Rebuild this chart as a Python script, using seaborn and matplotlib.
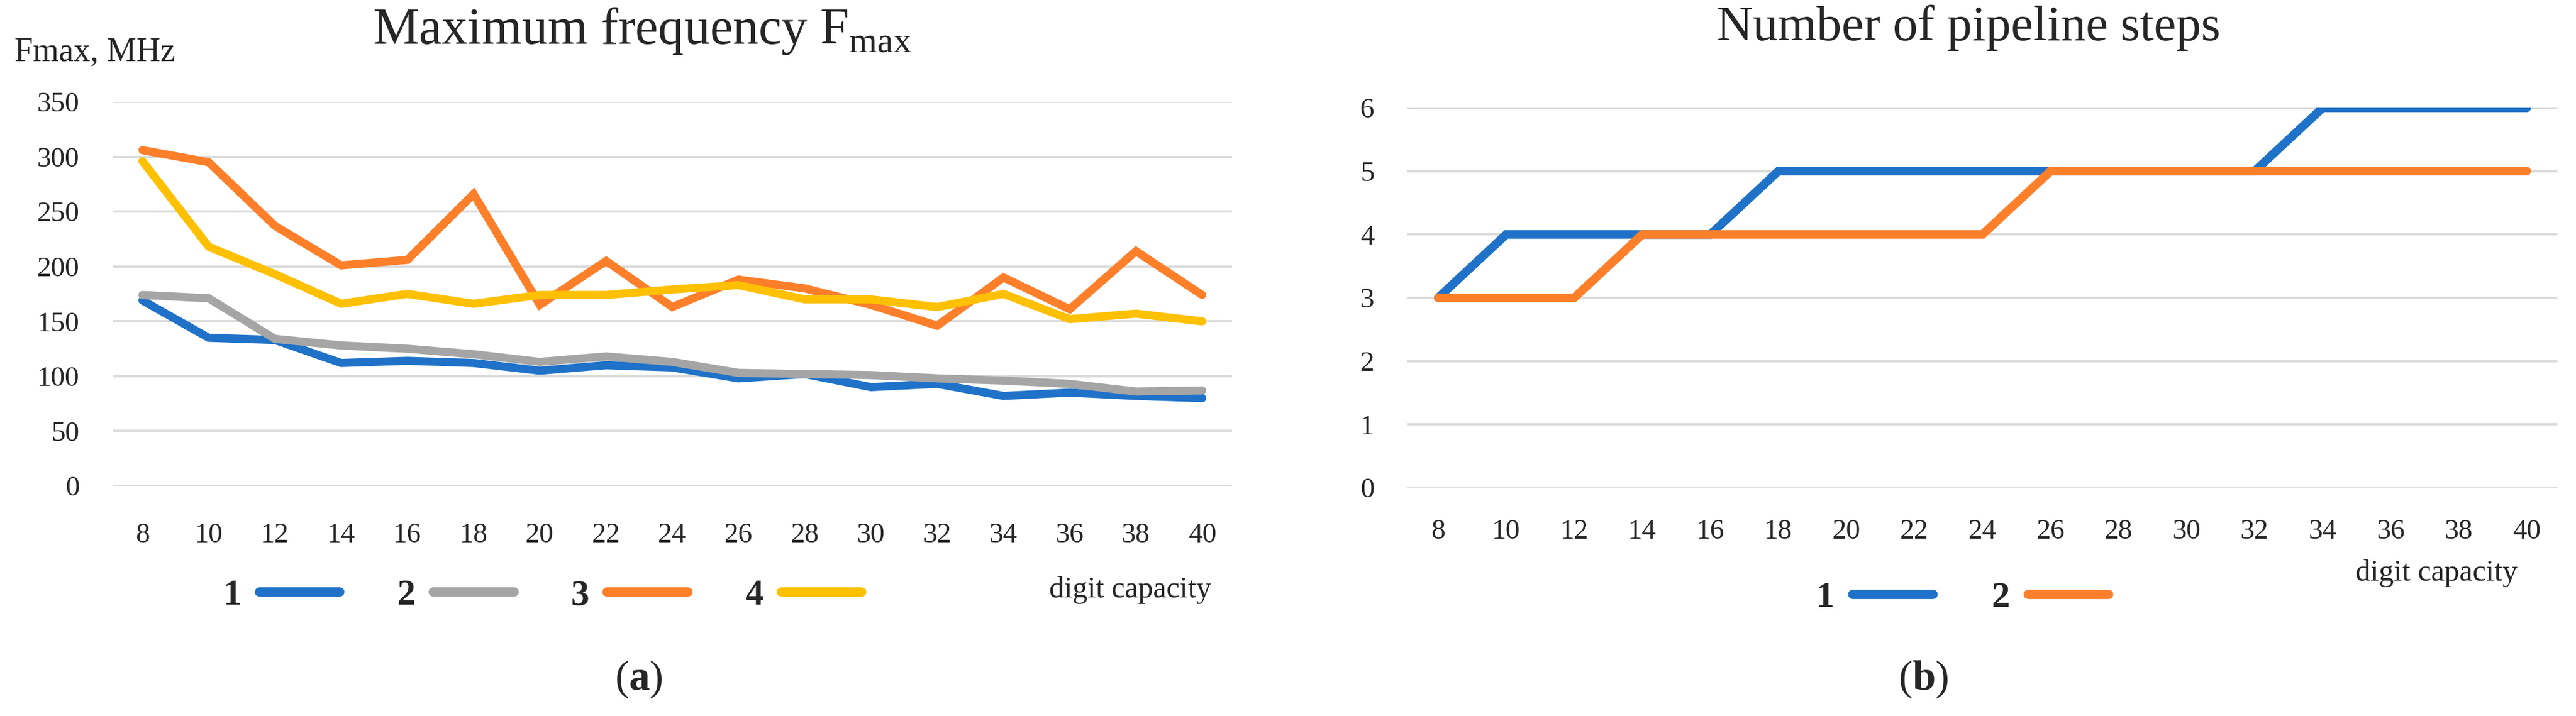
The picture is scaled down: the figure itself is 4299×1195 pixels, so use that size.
import numpy as np
import pandas as pd
import matplotlib
matplotlib.use("Agg")
import matplotlib.pyplot as plt
import seaborn as sns
from matplotlib.lines import Line2D

# ---------------- data ----------------
digits = [8, 10, 12, 14, 16, 18, 20, 22, 24, 26, 28, 30, 32, 34, 36, 38, 40]

fmax_1 = [169, 135, 133, 112, 114, 112, 105, 110, 108, 98, 102, 90, 93, 82, 85, 82, 80]
fmax_2 = [174, 171, 134, 128, 125, 120, 113, 118, 113, 103, 102, 101, 98, 96, 93, 86, 87]
fmax_3 = [306, 295, 237, 201, 206, 266, 165, 205, 163, 188, 180, 165, 146, 190, 161, 214, 174]
fmax_4 = [296, 218, 193, 166, 175, 166, 174, 174, 179, 183, 170, 170, 163, 175, 152, 157, 150]

steps_1 = [3, 4, 4, 4, 4, 5, 5, 5, 5, 5, 5, 5, 5, 6, 6, 6, 6]
steps_2 = [3, 3, 3, 4, 4, 4, 4, 4, 4, 5, 5, 5, 5, 5, 5, 5, 5]

left_series = ["1", "2", "3", "4"]
right_series = ["1", "2"]
left_yticks = [0, 50, 100, 150, 200, 250, 300, 350]
right_yticks = [0, 1, 2, 3, 4, 5, 6]

# ---------------- style ----------------
sns.set_style("white")
plt.rcParams["font.family"] = ["Liberation Serif", "DejaVu Serif"]
plt.rcParams["mathtext.fontset"] = "custom"
plt.rcParams["mathtext.rm"] = "Liberation Serif"
plt.rcParams["mathtext.bf"] = "Liberation Serif:bold"

BLUE = "#1f72c8"
GREY = "#a5a5a5"
ORANGE = "#fe7f2a"
YELLOW = "#ffc000"
GRID = "#d9d9d9"

W, H = 4299, 1195
DPI = 100
fig = plt.figure(figsize=(W / DPI, H / DPI), dpi=DPI)
fig.patch.set_facecolor("white")

def fx(px):
    return px / W

def fy(py):
    return 1 - py / H

LW = 9.8

# long-form frames
idx = list(range(len(digits)))
df_left = pd.DataFrame({
    "idx": idx * 4,
    "val": fmax_1 + fmax_2 + fmax_3 + fmax_4,
    "series": sum([[s] * len(digits) for s in left_series], []),
})
df_right = pd.DataFrame({
    "idx": idx * 2,
    "val": steps_1 + steps_2,
    "series": sum([[s] * len(digits) for s in right_series], []),
})

# ---------------- left chart ----------------
axL = fig.add_axes([fx(188), fy(811), fx(2056) - fx(188), fy(170) - fy(811)])
sns.lineplot(data=df_left, x="idx", y="val", hue="series",
             palette=[BLUE, GREY, ORANGE, YELLOW], linewidth=LW,
             legend=False, ax=axL, sort=False)
for ln in axL.get_lines():
    ln.set_solid_capstyle("round")
    ln.set_solid_joinstyle("miter")

axL.set_xlim(-0.45, len(digits) - 0.55)
axL.set_ylim(0, 350)
axL.set_yticks(left_yticks)
axL.set_xticks(idx)
axL.set_xticklabels([str(d) for d in digits])
axL.yaxis.grid(True, color=GRID, linewidth=2.6)
axL.xaxis.grid(False)
axL.set_axisbelow(True)
for s in axL.spines.values():
    s.set_visible(False)
axL.tick_params(axis="y", length=0, pad=40, labelsize=34)
axL.tick_params(axis="x", length=0, pad=44, labelsize=34)
axL.set_xlabel("")
axL.set_ylabel("")

fig.text(fx(24), fy(101), "Fmax, MHz", fontsize=40, ha="left", va="baseline")
fig.text(fx(1072), fy(73), r"Maximum frequency F$_{\mathregular{max}}$",
         fontsize=62, ha="center", va="baseline")
fig.text(fx(2021), fy(985), "digit capacity", fontsize=36, ha="right", va="center")
fig.text(fx(1066), fy(1134), r"($\mathbf{a}$)", fontsize=50, ha="center", va="center")

handlesL = [Line2D([0], [0], color=c, linewidth=LW * 1.15, solid_capstyle="round")
            for c in [BLUE, GREY, ORANGE, YELLOW]]
legL = fig.legend(handlesL, left_series, loc="center",
                  bbox_to_anchor=(fx(905), fy(994)), ncol=4, frameon=False,
                  markerfirst=False, handlelength=2.2, handletextpad=0.5,
                  columnspacing=1.55, prop={"size": 44, "weight": "bold"})

# ---------------- right chart ----------------
axR = fig.add_axes([fx(2349), fy(814), fx(4268) - fx(2349), fy(180) - fy(814)])
sns.lineplot(data=df_right, x="idx", y="val", hue="series",
             palette=[BLUE, ORANGE], linewidth=LW * 1.05,
             legend=False, ax=axR, sort=False)
for ln in axR.get_lines():
    ln.set_solid_capstyle("round")
    ln.set_solid_joinstyle("miter")

axR.set_xlim(-0.45, len(digits) - 0.55)
axR.set_ylim(0, 6)
axR.set_yticks(right_yticks)
axR.set_xticks(idx)
axR.set_xticklabels([str(d) for d in digits])
axR.yaxis.grid(True, color=GRID, linewidth=2.6)
axR.xaxis.grid(False)
axR.set_axisbelow(True)
for s in axR.spines.values():
    s.set_visible(False)
axR.tick_params(axis="y", length=0, pad=40, labelsize=34)
axR.tick_params(axis="x", length=0, pad=38, labelsize=34)
axR.set_xlabel("")
axR.set_ylabel("")

fig.text(fx(3285), fy(67), "Number of pipeline steps", fontsize=60,
         ha="center", va="baseline")
fig.text(fx(4201), fy(957), "digit capacity", fontsize=36, ha="right", va="center")
fig.text(fx(3210), fy(1134), r"($\mathbf{b}$)", fontsize=50, ha="center", va="center")

handlesR = [Line2D([0], [0], color=c, linewidth=LW * 1.15, solid_capstyle="round")
            for c in [BLUE, ORANGE]]
legR = fig.legend(handlesR, right_series, loc="center",
                  bbox_to_anchor=(fx(3275), fy(998)), ncol=2, frameon=False,
                  markerfirst=False, handlelength=2.2, handletextpad=0.5,
                  columnspacing=1.6, prop={"size": 44, "weight": "bold"})

fig.savefig("out.png", dpi=DPI, facecolor="white")
